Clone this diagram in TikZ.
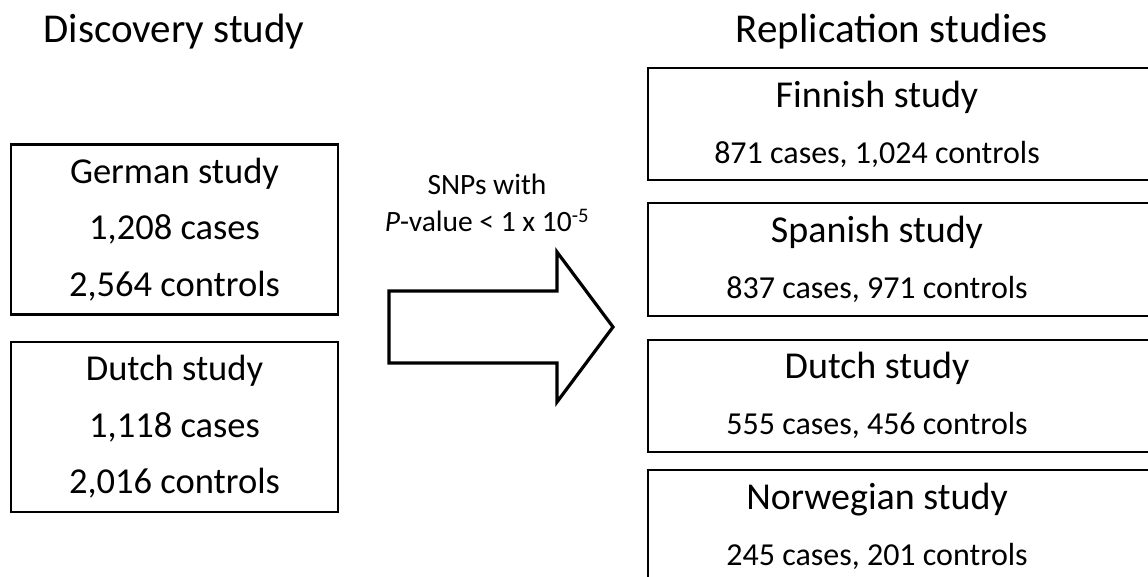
\documentclass[tikz,border=0pt]{standalone}
\usepackage{fontspec}
\setmainfont{Carlito}
\usepackage{tikz}
\usetikzlibrary{positioning,calc}

\begin{document}
\begin{tikzpicture}[
    x=1pt, y=-1pt,
    box/.style={rectangle, draw, line width=2.2pt, minimum width=327pt, minimum height=170pt, align=center, font=\fontsize{36.5}{56.5}\selectfont},
    rbox/.style={rectangle, minimum width=458pt, minimum height=112pt, align=center, font=\fontsize{32}{56}\selectfont},
    frame/.style={draw, line width=2.2pt},
    head/.style={anchor=base, font=\fontsize{41}{48}\selectfont},
    bigarr/.style={draw, line width=3.2pt, line join=miter}
]
\useasboundingbox (0,0) rectangle (1148,576);
\node[head] (disc) at (174,42) {Discovery study};
\node[head] (repl) at (892,42) {Replication studies};
\node[box] (german) at (174.5,229.5) {German study\\1,208 cases\\2,564 controls};
\node[box, below=25pt of german] (dutch) {Dutch study\\1,118 cases\\2,016 controls};
\node[rbox] (finnish) at (877,124) {{\fontsize{38}{56}\selectfont Finnish study}\\871 cases, 1,024 controls};
\node[rbox, below=23pt of finnish] (spanish) {{\fontsize{38}{56}\selectfont Spanish study}\\837 cases, 971 controls};
\node[rbox, below=24pt of spanish] (dutchrep) {{\fontsize{38}{56}\selectfont Dutch study}\\555 cases, 456 controls};
\node[rbox, below=18pt of dutchrep] (norwegian) {{\fontsize{38}{56}\selectfont Norwegian study}\\245 cases, 201 controls};
\draw[frame] (finnish.north west) rectangle ([xshift=60pt]finnish.south east);
\draw[frame] (spanish.north west) rectangle ([xshift=60pt]spanish.south east);
\draw[frame] (dutchrep.north west) rectangle ([xshift=60pt]dutchrep.south east);
\draw[frame] (norwegian.north west) rectangle ([xshift=60pt]norwegian.south east);
\node[align=center, font=\fontsize{29.5}{37}\selectfont] (snps) at (487,203) {SNPs with\\\textit{P}-value < 1 x 10\textsuperscript{-5}};
\coordinate (tail) at (389,327);
\coordinate (tip) at (613,327);
\draw[bigarr] (tail) ++(0,-36) -- ++(168,0) -- ++(0,-39) -- (tip) -- ++(-56,75) -- ++(0,-39) -- ++(-168,0) -- cycle;
\end{tikzpicture}
\end{document}
